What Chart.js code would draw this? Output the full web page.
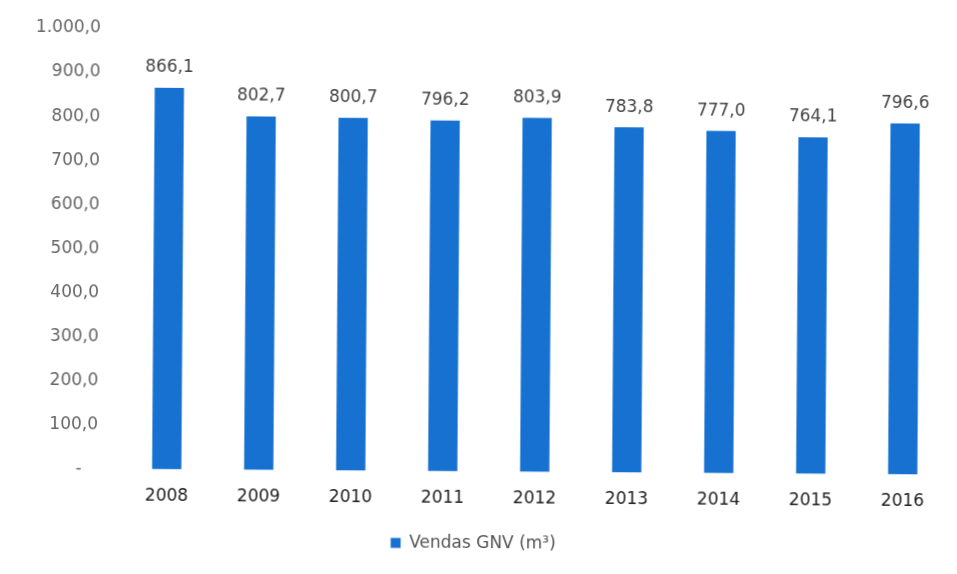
<!DOCTYPE html>
<html lang="pt-BR">
<head>
<meta charset="utf-8">
<title>Vendas GNV</title>
<script src="https://cdn.jsdelivr.net/npm/chart.js@4/dist/chart.umd.min.js"></script>
<style>
    html, body { margin: 0; padding: 0; background: #fff; }
    #wrap { width: 957px; height: 574px; transform: rotate(0.4deg); transform-origin: 50% 50%; }
</style>
</head>
<body>
<div id="wrap"><canvas id="gnvChart" width="957" height="574"></canvas></div>
<script>
const anos = ['2008', '2009', '2010', '2011', '2012', '2013', '2014', '2015', '2016'];
const vendas = [866.1, 802.7, 800.7, 796.2, 803.9, 783.8, 777.0, 764.1, 796.6];
const yMax = 1000;
const yStep = 100;

// formato 1.000,0 (separador de milhar ponto, decimal vírgula)
function formatBR(v) {
    const parts = v.toFixed(1).split('.');
    parts[0] = parts[0].replace(/\B(?=(\d{3})+(?!\d))/g, '.');
    return parts.join(',');
}

// rótulos de valor acima das barras
const rotulosBarras = {
    id: 'rotulosBarras',
    afterDatasetsDraw(chart) {
        const ctx = chart.ctx;
        ctx.save();
        ctx.font = '17px "DejaVu Sans"';
        ctx.fillStyle = '#444';
        ctx.textAlign = 'center';
        ctx.textBaseline = 'middle';
        chart.getDatasetMeta(0).data.forEach((bar, i) => {
            ctx.fillText(formatBR(vendas[i]), bar.x, bar.y - 20);
        });
        ctx.restore();
    }
};

Chart.defaults.font.family = '"DejaVu Sans", sans-serif';
Chart.defaults.font.size = 17;

new Chart(document.getElementById('gnvChart'), {
    type: 'bar',
    data: {
        labels: anos,
        datasets: [{
            label: 'Vendas GNV (m³)',
            data: vendas,
            backgroundColor: '#1771D1',
            barPercentage: 0.6,
            categoryPercentage: 0.53
        }]
    },
    options: {
        responsive: false,
        animation: false,
        layout: {
            padding: { left: 0, right: 7, top: 31, bottom: 12 }
        },
        scales: {
            y: {
                min: 0,
                max: yMax,
                grid: { display: false },
                border: { display: false },
                ticks: {
                    stepSize: yStep,
                    padding: 15,
                    color: '#666',
                    callback: v => v === 0 ? '-\u2007\u2008' : formatBR(v)
                },
                afterFit(scale) { scale.width = 122; }
            },
            x: {
                grid: { display: false },
                border: { display: false },
                ticks: { color: '#222', padding: 9 }
            }
        },
        plugins: {
            legend: {
                position: 'bottom',
                labels: {
                    color: '#555',
                    boxWidth: 10,
                    boxHeight: 10,
                    padding: 17
                }
            },
            tooltip: { enabled: false }
        }
    },
    plugins: [rotulosBarras]
});
</script>
</body>
</html>
